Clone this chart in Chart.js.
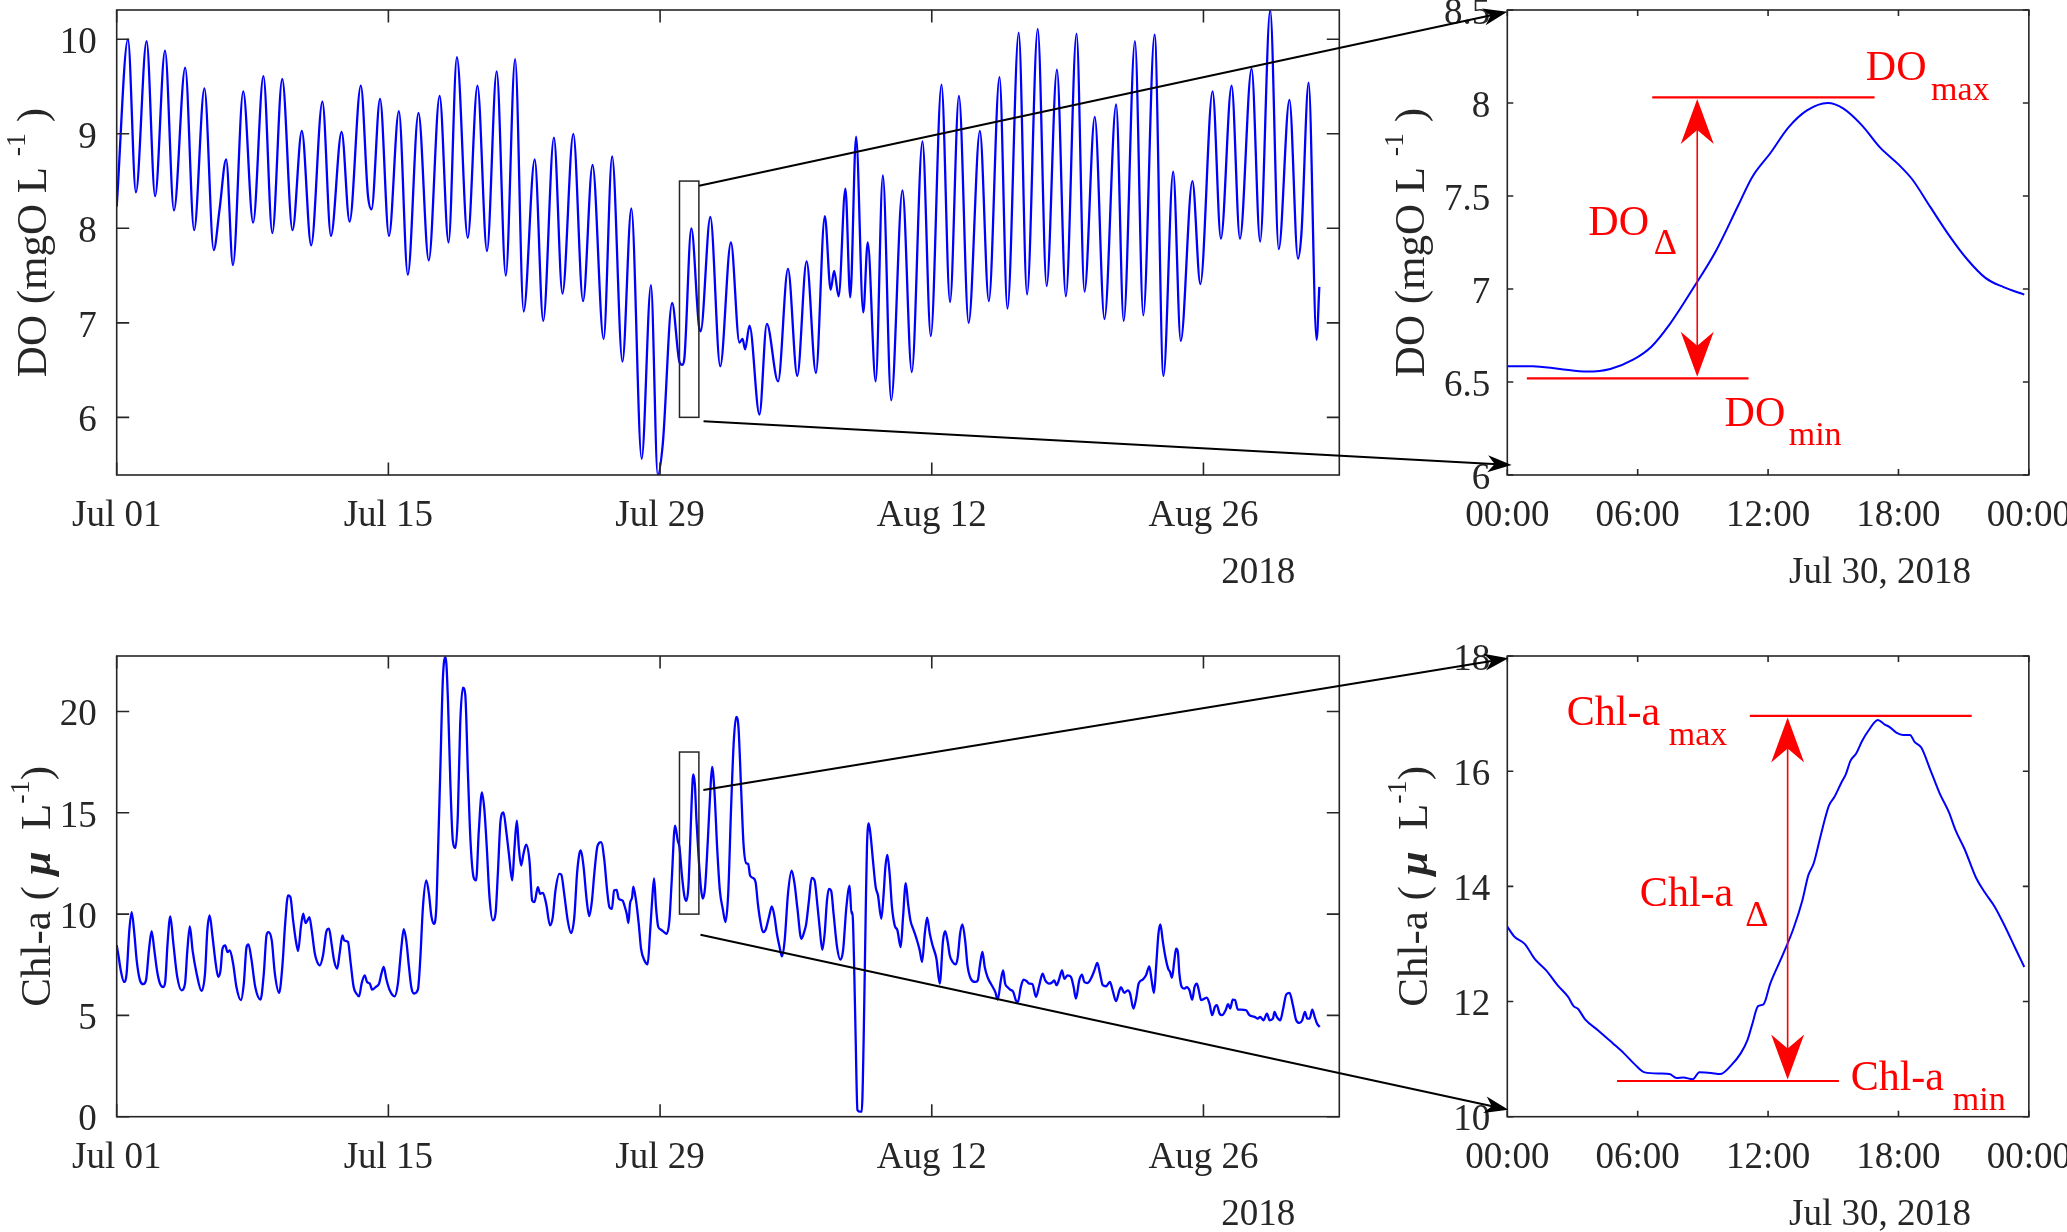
<!DOCTYPE html>
<html>
<head>
<meta charset="utf-8">
<script src="https://cdn.jsdelivr.net/npm/chart.js@4.4.1/dist/chart.umd.min.js"></script>
<style>
html,body{margin:0;padding:0;background:#ffffff;overflow:hidden;width:2067px;height:1232px;position:relative;}
canvas{position:absolute;}
</style>
</head>
<body>
<canvas id="cDO"></canvas>
<canvas id="cCHL"></canvas>
<canvas id="cDOZ"></canvas>
<canvas id="cCHLZ"></canvas>
<canvas id="overlay" width="2067" height="1232" style="left:0;top:0;pointer-events:none;"></canvas>
<script>
// ---------------- DATA ----------------
const MAIN_X_TICKS = [0, 14, 28, 42, 56];              // days since Jul 01 2018
const MAIN_X_LABELS = ['Jul 01', 'Jul 15', 'Jul 29', 'Aug 12', 'Aug 26'];
const ZOOM_X_TICKS = [0, 6, 12, 18, 24];               // hours of Jul 30 2018
const ZOOM_X_LABELS = ['00:00', '06:00', '12:00', '18:00', '00:00'];
const DO_Y_TICKS = [6, 7, 8, 9, 10];
const CHL_Y_TICKS = [0, 5, 10, 15, 20];
const DOZ_Y_TICKS = [6, 6.5, 7, 7.5, 8, 8.5];
const CHLZ_Y_TICKS = [10, 12, 14, 16, 18];

// DO (mgO/L): [day, value]
const DO_SERIES = [
[0,8.23],[0.58,10.0],[0.99,8.38],[1.54,9.98],[1.98,8.34],[2.49,9.88],[2.95,8.19],[3.53,9.70],[3.99,7.98],[4.52,9.48],
[5.00,7.77],[5.30,8.20],[5.64,8.73],[5.99,7.61],[6.52,9.45],[7.03,8.06],[7.56,9.61],[8.02,7.95],[8.53,9.58],[9.06,7.98],
[9.54,9.03],[10.02,7.82],[10.60,9.34],[11.04,7.92],[11.59,9.02],[12.00,8.07],[12.58,9.51],[12.95,8.34],[13.13,8.20],[13.57,9.37],
[14.03,7.92],[14.54,9.24],[15.00,7.51],[15.55,9.22],[16.08,7.66],[16.64,9.40],[17.10,7.85],[17.53,9.81],[18.09,7.90],[18.59,9.51],
[19.08,7.76],[19.58,9.66],[20.05,7.50],[20.53,9.79],[20.97,7.12],[21.54,8.73],[21.98,7.02],[22.53,8.96],[22.97,7.31],[23.53,9.00],
[24.03,7.23],[24.52,8.67],[25.09,6.83],[25.53,8.76],[26.06,6.59],[26.52,8.21],[27.05,5.56],[27.53,7.40],[27.88,5.39],[28.14,5.72],
[28.62,7.21],[29.00,6.585],[29.15,6.556],[29.25,6.62],[29.61,8.00],[30.00,6.97],[30.09,6.91],[30.59,8.12],[31.10,6.54],[31.65,7.85],
[32.09,6.79],[32.25,6.83],[32.38,6.72],[32.61,6.97],[33.12,6.03],[33.50,6.99],[34.08,6.38],[34.59,7.57],[35.07,6.44],[35.55,7.65],
[36.03,6.47],[36.49,8.13],[36.79,7.35],[36.97,7.55],[37.20,7.28],[37.55,8.42],[37.80,7.27],[38.10,8.97],[38.47,7.11],[38.70,7.85],
[39.11,6.38],[39.48,8.56],[39.91,6.18],[40.49,8.40],[40.97,6.48],[41.52,8.92],[41.95,6.86],[42.50,9.52],[42.94,7.22],[43.40,9.40],
[43.90,7.00],[44.48,9.03],[44.94,7.23],[45.49,9.60],[45.90,7.15],[46.48,10.07],[46.91,7.30],[47.46,10.11],[47.92,7.39],[48.45,9.68],
[48.91,7.28],[49.46,10.06],[49.87,7.33],[50.40,9.18],[50.90,7.04],[51.50,9.31],[51.89,7.02],[52.47,9.98],[52.90,7.08],[53.48,10.05],
[53.94,6.44],[54.44,8.60],[54.83,6.81],[55.43,8.50],[55.84,7.41],[56.47,9.45],[56.90,7.89],[57.45,9.51],[57.88,7.89],[58.48,9.69],
[58.92,7.86],[59.44,10.31],[59.88,7.78],[60.43,9.36],[60.87,7.68],[61.05,7.95],[61.42,9.54],[61.83,6.82],[61.97,7.38]
];

// Chl-a (ug/L): [day, value]
const CHL_SERIES = [
[0.00,8.46],[0.09,7.96],[0.21,7.22],[0.38,6.65],[0.51,7.06],[0.65,9.20],[0.77,10.10],[0.91,9.03],[1.03,7.72],[1.20,6.73],
[1.37,6.54],[1.51,6.73],[1.66,8.21],[1.80,9.16],[1.94,8.21],[2.09,7.14],[2.23,6.57],[2.40,6.40],[2.50,6.65],[2.62,8.54],
[2.76,9.89],[2.92,8.54],[3.12,6.90],[3.34,6.24],[3.52,6.57],[3.64,8.21],[3.77,9.39],[3.91,8.21],[4.12,7.06],[4.37,6.21],
[4.55,7.06],[4.67,9.20],[4.79,9.93],[4.94,8.87],[5.08,7.72],[5.23,6.90],[5.35,7.22],[5.45,8.29],[5.59,8.46],[5.71,8.13],
[5.83,8.21],[6.00,7.55],[6.17,6.40],[6.40,5.75],[6.55,6.57],[6.69,8.37],[6.79,8.51],[6.95,7.72],[7.14,6.40],[7.41,5.78],
[7.58,7.06],[7.72,8.95],[7.82,9.11],[7.99,8.70],[8.15,7.06],[8.37,6.11],[8.54,7.47],[8.68,9.52],[8.83,10.92],[8.95,10.84],
[9.09,9.69],[9.23,8.70],[9.35,8.18],[9.49,9.36],[9.61,10.02],[9.73,9.56],[9.83,9.69],[9.93,9.85],[10.05,9.20],[10.21,8.05],
[10.33,7.64],[10.46,7.47],[10.63,7.96],[10.81,9.16],[10.94,9.28],[11.06,8.62],[11.20,7.72],[11.36,7.31],[11.49,8.08],[11.63,8.95],
[11.73,8.70],[11.92,8.62],[12.04,7.72],[12.21,6.40],[12.35,6.08],[12.49,5.94],[12.62,6.57],[12.78,6.98],[12.90,6.65],[13.04,6.57],
[13.17,6.27],[13.34,6.40],[13.52,6.57],[13.64,7.06],[13.76,7.39],[13.89,6.81],[14.07,6.24],[14.32,5.94],[14.49,6.57],[14.67,8.37],
[14.79,9.26],[14.92,8.70],[15.06,7.39],[15.18,6.40],[15.32,6.08],[15.52,6.27],[15.64,7.72],[15.78,10.34],[15.95,11.66],[16.09,11.00],
[16.21,9.93],[16.35,9.52],[16.47,10.34],[16.55,12.81],[16.67,16.91],[16.81,21.67],[16.95,22.69],[17.07,20.53],[17.19,16.58],[17.32,13.63],
[17.46,13.27],[17.58,14.94],[17.70,19.38],[17.84,21.18],[17.96,20.85],[18.10,16.91],[18.23,13.63],[18.39,11.82],[18.52,11.66],[18.66,14.12],
[18.82,16.01],[18.95,15.11],[19.07,13.30],[19.21,10.84],[19.38,9.69],[19.52,10.02],[19.64,11.99],[19.78,14.61],[19.93,15.02],[20.07,14.12],
[20.21,12.97],[20.38,11.66],[20.50,13.30],[20.62,14.61],[20.72,13.30],[20.84,12.40],[20.96,12.97],[21.10,13.43],[21.27,12.64],[21.41,10.67],
[21.53,10.59],[21.70,11.33],[21.82,11.00],[21.96,11.05],[22.13,10.51],[22.33,9.44],[22.47,9.85],[22.61,11.17],[22.81,11.99],[22.91,11.95],
[23.06,11.00],[23.24,9.69],[23.41,9.06],[23.58,9.85],[23.72,11.99],[23.84,12.97],[23.92,13.14],[24.06,12.32],[24.22,10.67],[24.35,9.90],
[24.49,10.67],[24.61,11.99],[24.78,13.38],[24.96,13.55],[25.13,12.64],[25.27,11.17],[25.39,10.34],[25.52,10.26],[25.63,11.17],[25.76,11.20],
[25.87,10.76],[26.07,10.67],[26.19,10.34],[26.28,10.02],[26.37,9.56],[26.45,10.51],[26.56,10.84],[26.62,11.36],[26.76,10.67],[26.90,9.52],
[27.02,8.29],[27.19,7.72],[27.36,7.52],[27.48,9.03],[27.59,10.67],[27.69,11.76],[27.79,10.34],[27.90,9.39],[28.05,9.23],[28.22,9.10],
[28.34,9.03],[28.48,9.69],[28.60,11.66],[28.77,14.37],[28.91,13.63],[29.00,13.30],[29.125,11.92],[29.25,10.90],[29.354,10.65],[29.458,11.33],
[29.542,13.26],[29.625,15.50],[29.708,16.89],[29.792,16.41],[29.875,14.64],[30.00,12.60],[30.10,11.33],[30.20,10.76],[30.32,11.33],[30.46,13.63],
[30.58,15.93],[30.68,17.27],[30.80,16.09],[30.94,13.30],[31.08,11.17],[31.23,10.26],[31.37,9.61],[31.51,11.00],[31.66,15.27],[31.80,18.56],
[31.92,19.74],[32.04,19.21],[32.18,16.09],[32.30,13.46],[32.44,12.51],[32.54,12.48],[32.64,11.90],[32.78,11.79],[32.92,11.58],[33.04,10.51],
[33.16,9.69],[33.30,9.11],[33.44,9.23],[33.61,9.85],[33.76,10.38],[33.90,9.85],[34.02,9.03],[34.16,8.37],[34.28,7.91],[34.42,8.70],
[34.59,11.00],[34.78,12.15],[34.93,11.49],[35.07,10.34],[35.28,8.78],[35.45,9.20],[35.53,9.52],[35.67,10.67],[35.81,11.79],[35.96,11.66],
[36.10,10.51],[36.22,9.36],[36.36,8.24],[36.48,9.03],[36.60,10.67],[36.70,11.25],[36.82,11.13],[36.94,10.02],[37.12,8.37],[37.29,7.75],
[37.43,8.21],[37.60,10.34],[37.77,11.41],[37.86,10.02],[37.91,10.10],[37.99,7.88],[38.08,3.78],[38.17,0.33],[38.29,0.25],[38.39,0.25],
[38.49,3.78],[38.60,10.34],[38.66,13.30],[38.75,14.48],[38.84,13.96],[38.97,12.64],[39.11,11.33],[39.23,10.92],[39.40,9.77],[39.52,11.00],
[39.61,12.32],[39.71,12.92],[39.83,11.99],[39.95,10.34],[40.09,9.44],[40.23,9.20],[40.40,8.37],[40.52,9.85],[40.66,11.53],[40.78,10.51],
[40.90,9.69],[41.07,9.20],[41.24,8.70],[41.38,8.21],[41.50,7.64],[41.64,9.03],[41.76,9.82],[41.90,9.03],[42.04,8.46],[42.24,7.80],
[42.41,6.57],[42.58,8.70],[42.69,9.16],[42.81,8.70],[42.93,7.96],[43.07,7.64],[43.24,7.52],[43.34,7.88],[43.46,9.03],[43.58,9.49],
[43.72,8.70],[43.84,7.47],[44.01,6.81],[44.24,6.65],[44.37,6.73],[44.48,7.47],[44.61,8.13],[44.73,7.39],[44.87,6.90],[45.04,6.57],
[45.27,6.16],[45.40,5.78],[45.56,6.73],[45.68,7.22],[45.78,6.57],[45.90,6.40],[46.04,6.27],[46.20,6.16],[46.33,5.75],[46.44,5.67],
[46.59,6.40],[46.73,6.77],[46.88,6.70],[47.02,6.57],[47.19,6.54],[47.37,5.91],[47.54,6.49],[47.71,7.06],[47.85,6.73],[48.05,6.57],
[48.23,6.65],[48.31,6.73],[48.43,6.49],[48.57,6.81],[48.71,7.22],[48.83,6.81],[49.00,6.98],[49.17,6.90],[49.31,6.40],[49.43,5.83],
[49.60,6.73],[49.74,7.01],[49.86,6.65],[50.03,6.60],[50.20,6.81],[50.38,7.22],[50.53,7.59],[50.67,7.06],[50.81,6.49],[50.98,6.44],
[51.18,6.65],[51.32,6.24],[51.49,5.70],[51.67,6.24],[51.75,6.40],[51.92,6.11],[52.10,6.24],[52.22,6.08],[52.39,5.34],[52.53,5.83],
[52.66,6.57],[52.87,6.77],[53.04,6.98],[53.21,7.42],[53.33,6.73],[53.45,6.11],[53.56,7.39],[53.68,9.03],[53.78,9.49],[53.90,8.70],
[54.04,7.88],[54.18,7.31],[54.28,7.14],[54.38,6.86],[54.50,7.72],[54.59,8.29],[54.68,8.13],[54.76,7.06],[54.88,6.40],[55.02,6.32],
[55.14,6.40],[55.28,6.24],[55.42,5.78],[55.54,6.40],[55.66,6.57],[55.76,6.24],[55.88,5.75],[56.05,5.83],[56.17,5.88],[56.31,5.58],
[56.45,5.01],[56.59,5.42],[56.69,5.50],[56.83,5.09],[56.96,5.01],[57.14,5.25],[57.27,5.55],[57.38,5.34],[57.51,5.78],[57.63,5.75],
[57.77,5.29],[57.94,5.29],[58.20,5.25],[58.37,5.01],[58.63,4.93],[58.80,4.84],[58.92,4.93],[59.10,4.76],[59.27,5.09],[59.41,4.76],
[59.58,4.84],[59.66,5.17],[59.78,4.93],[59.96,4.76],[60.09,5.25],[60.27,6.04],[60.44,6.11],[60.61,5.50],[60.78,4.76],[60.95,4.63],
[61.09,4.76],[61.23,5.17],[61.35,4.84],[61.47,4.84],[61.61,5.29],[61.73,4.93],[61.85,4.60],[61.99,4.43]
];

// Jul 30 detail: [hour, value]
const DO_ZOOM_SERIES = [
[0,6.585],[1.16,6.585],[2.42,6.57],[3.68,6.556],[4.74,6.57],[5.79,6.62],[6.63,6.69],[7.47,6.81],[8.53,7.00],[9.58,7.20],
[10.63,7.45],[11.26,7.60],[12.10,7.73],[12.95,7.87],[13.79,7.96],[14.74,8.00],[15.47,7.97],[16.32,7.88],[17.16,7.76],[18.00,7.67],
[18.63,7.59],[19.47,7.44],[20.32,7.29],[21.16,7.16],[22.00,7.06],[22.84,7.01],[23.79,6.97]
];
const CHL_ZOOM_SERIES = [
[0,13.30],[0.32,13.13],[0.80,13.00],[1.26,12.74],[1.79,12.54],[2.32,12.28],[2.80,12.08],[3.05,11.92],[3.26,11.87],[3.58,11.69],
[4.21,11.49],[4.84,11.28],[5.37,11.10],[5.89,10.90],[6.32,10.77],[7.05,10.75],[7.47,10.74],[7.79,10.67],[8.10,10.68],[8.53,10.65],
[8.84,10.77],[9.37,10.76],[9.79,10.74],[10.32,10.90],[10.74,11.10],[11.05,11.33],[11.26,11.59],[11.54,11.92],[11.79,11.95],[12.10,12.31],
[12.63,12.77],[13.16,13.26],[13.58,13.76],[13.85,14.19],[14.10,14.40],[14.42,14.88],[14.80,15.40],[15.05,15.55],[15.37,15.80],[15.58,15.95],
[15.79,16.18],[16.06,16.31],[16.32,16.52],[16.63,16.71],[17.05,16.89],[17.37,16.81],[17.58,16.77],[17.90,16.67],[18.21,16.63],[18.53,16.63],
[18.74,16.51],[19.05,16.41],[19.47,16.02],[19.89,15.62],[20.32,15.29],[20.63,14.97],[21.05,14.64],[21.58,14.14],[22.00,13.88],[22.42,13.65],
[22.84,13.35],[23.37,12.93],[23.79,12.60]
];

// annotation levels
const DO_ANN = { max: 8.03, maxFrom: 6.67, maxTo: 16.9, min: 6.52, minFrom: 0.9, minTo: 11.1, arrowAt: 8.74 };
const CHL_ANN = { max: 16.96, maxFrom: 11.16, maxTo: 21.37, min: 10.62, minFrom: 5.05, minTo: 15.26, arrowAt: 12.9 };

// ---------------- HELPERS ----------------
const FONT = "'Liberation Serif', 'Times New Roman', serif";
const AXC = '#262626';
const TICK_FONT = { family: FONT, size: 37 };

function fontStr(p) { return (p.style ? p.style + ' ' : '') + p.size + 'px ' + FONT; }

function richRot(ctx, parts, bx, cy, color) {
  ctx.save();
  ctx.translate(bx, cy);
  ctx.rotate(-Math.PI / 2);
  let total = 0;
  parts.forEach(p => { ctx.font = fontStr(p); p.w = ctx.measureText(p.t).width; total += p.w; });
  let x = -total / 2;
  ctx.textBaseline = 'alphabetic';
  ctx.textAlign = 'left';
  ctx.fillStyle = color;
  parts.forEach(p => { ctx.font = fontStr(p); ctx.fillText(p.t, x, -(p.rise || 0)); x += p.w; });
  ctx.restore();
}

function headAt(ctx, tx, ty, fx, fy, len, hw, notch, color) {
  const a = Math.atan2(ty - fy, tx - fx);
  ctx.save();
  ctx.translate(tx, ty);
  ctx.rotate(a);
  ctx.beginPath();
  ctx.moveTo(0, 0);
  ctx.lineTo(-len, -hw);
  ctx.lineTo(-len + notch, 0);
  ctx.lineTo(-len, hw);
  ctx.closePath();
  ctx.fillStyle = color;
  ctx.fill();
  ctx.restore();
}

function makeChart(id, box, area, cfg) {
  const cv = document.getElementById(id);
  cv.width = box.w; cv.height = box.h;
  cv.style.left = box.x + 'px'; cv.style.top = box.y + 'px';
  cv.style.width = box.w + 'px'; cv.style.height = box.h + 'px';
  const yW = area.l - box.x;
  const padTop = area.t - box.y;
  const padRight = box.x + box.w - area.r;
  const xH = box.y + box.h - area.b;

  const framePlugin = {
    id: 'frame_' + id,
    afterDatasetsDraw(chart) {
      const ctx = chart.ctx, a = chart.chartArea, xs = chart.scales.x, ys = chart.scales.y;
      ctx.save();
      if (cfg.annot) cfg.annot(ctx, xs, ys, a);
      ctx.strokeStyle = AXC;
      ctx.lineWidth = 1.6;
      ctx.strokeRect(a.left, a.top, a.right - a.left, a.bottom - a.top);
      ctx.beginPath();
      const tl = cfg.tickLen;
      xs.ticks.forEach(t => {
        const px = xs.getPixelForValue(t.value);
        ctx.moveTo(px, a.bottom); ctx.lineTo(px, a.bottom - tl);
        ctx.moveTo(px, a.top); ctx.lineTo(px, a.top + tl);
      });
      ys.ticks.forEach(t => {
        const py = ys.getPixelForValue(t.value);
        ctx.moveTo(a.left, py); ctx.lineTo(a.left + tl, py);
        ctx.moveTo(a.right, py); ctx.lineTo(a.right - tl, py);
      });
      ctx.stroke();
      richRot(ctx, cfg.title, a.left - cfg.titleOffset, (a.top + a.bottom) / 2, AXC);
      ctx.font = '37px ' + FONT;
      ctx.fillStyle = AXC;
      ctx.textAlign = 'center';
      ctx.textBaseline = 'alphabetic';
      ctx.fillText(cfg.extra.text, a.left + cfg.extra.dx, a.bottom + 108);
      ctx.restore();
    }
  };

  return new Chart(cv, {
    type: 'line',
    data: {
      datasets: [{
        data: cfg.series.map(p => ({ x: p[0], y: p[1] })),
        borderColor: '#0000ff',
        borderWidth: cfg.lineWidth,
        pointRadius: 0,
        fill: false,
        cubicInterpolationMode: 'monotone'
      }]
    },
    options: {
      responsive: false,
      animation: false,
      devicePixelRatio: 1,
      layout: { padding: { top: padTop, right: padRight, left: 0, bottom: 0 } },
      plugins: { legend: { display: false }, tooltip: { enabled: false }, title: { display: false } },
      scales: {
        x: {
          type: 'linear',
          min: cfg.xmin, max: cfg.xmax,
          grid: { display: false, drawTicks: false },
          border: { display: false },
          afterBuildTicks: s => { s.ticks = cfg.xticks.map(v => ({ value: v })); },
          afterFit: s => { s.height = xH; },
          ticks: {
            autoSkip: false, maxRotation: 0, minRotation: 0, padding: 19,
            font: TICK_FONT, color: AXC,
            callback: v => cfg.xlabels[cfg.xticks.indexOf(v)]
          }
        },
        y: {
          type: 'linear',
          min: cfg.ymin, max: cfg.ymax,
          grid: { display: false, drawTicks: false },
          border: { display: false },
          afterBuildTicks: s => { s.ticks = cfg.yticks.map(v => ({ value: v })); },
          afterFit: s => { s.width = yW; },
          ticks: {
            autoSkip: false, padding: cfg.yPad, labelOffset: 4,
            font: TICK_FONT, color: AXC,
            callback: v => String(v)
          }
        }
      }
    },
    plugins: [framePlugin]
  });
}

function boxAnnot(y1, y2) {
  return (ctx, xs, ys) => {
    ctx.save();
    ctx.strokeStyle = AXC;
    ctx.lineWidth = 1.5;
    const x1p = xs.getPixelForValue(29), x2p = xs.getPixelForValue(30);
    const y1p = ys.getPixelForValue(y2), y2p = ys.getPixelForValue(y1);
    ctx.strokeRect(x1p, y1p, x2p - x1p, y2p - y1p);
    ctx.restore();
  };
}

function redAnnot(ann, texts) {
  return (ctx, xs, ys) => {
    ctx.save();
    const red = '#ff0000';
    ctx.strokeStyle = red;
    ctx.lineWidth = 2.2;
    ctx.beginPath();
    ctx.moveTo(xs.getPixelForValue(ann.maxFrom), ys.getPixelForValue(ann.max));
    ctx.lineTo(xs.getPixelForValue(ann.maxTo), ys.getPixelForValue(ann.max));
    ctx.moveTo(xs.getPixelForValue(ann.minFrom), ys.getPixelForValue(ann.min));
    ctx.lineTo(xs.getPixelForValue(ann.minTo), ys.getPixelForValue(ann.min));
    ctx.stroke();
    const ax = xs.getPixelForValue(ann.arrowAt);
    const yt = ys.getPixelForValue(ann.max) + 1.5, yb = ys.getPixelForValue(ann.min) - 1.5;
    ctx.lineWidth = 1.6;
    ctx.beginPath();
    ctx.moveTo(ax, yt + 20); ctx.lineTo(ax, yb - 20);
    ctx.stroke();
    headAt(ctx, ax, yt, ax, yb, 45, 16.5, 14, red);
    headAt(ctx, ax, yb, ax, yt, 45, 16.5, 14, red);
    ctx.fillStyle = red;
    ctx.textAlign = 'left';
    ctx.textBaseline = 'alphabetic';
    texts.forEach(t => {
      ctx.font = t.size + 'px ' + FONT;
      ctx.fillText(t.t, xs.getPixelForValue(t.x), ys.getPixelForValue(t.y));
    });
    ctx.restore();
  };
}

// ---------------- LAYOUT ----------------
const B_DO = { x: 0, y: -40, w: 1400, h: 640 };
const A_DO = { l: 116.7, t: 10, r: 1339.3, b: 475 };
const B_CHL = { x: 0, y: 606, w: 1400, h: 630 };
const A_CHL = { l: 116.7, t: 656, r: 1339.3, b: 1116.7 };
const B_DOZ = { x: 1380, y: -40, w: 710, h: 640 };
const A_DOZ = { l: 1507.3, t: 10, r: 2030.4, b: 475 };
const B_CHLZ = { x: 1380, y: 606, w: 710, h: 630 };
const A_CHLZ = { l: 1507.3, t: 656, r: 2030.4, b: 1116.7 };

const DO_TITLE = [{ t: 'DO (mgO L ', size: 43 }, { t: '-1', size: 28, rise: 21 }, { t: ' )', size: 43 }];
const CHL_TITLE = [{ t: 'Chl-a ( ', size: 43 }, { t: '\u03BC', size: 43, style: 'italic bold' }, { t: '  L', size: 43 }, { t: '-1', size: 28, rise: 21 }, { t: ')', size: 43 }];

const cDO = makeChart('cDO', B_DO, A_DO, {
  series: DO_SERIES, lineWidth: 2.3,
  xmin: 0, xmax: 63, xticks: MAIN_X_TICKS, xlabels: MAIN_X_LABELS,
  ymin: 5.39, ymax: 10.31, yticks: DO_Y_TICKS, yPad: 20, tickLen: 12.5,
  title: DO_TITLE, titleOffset: 71,
  extra: { text: '2018', dx: A_DO.r - A_DO.l - 81 },
  annot: boxAnnot(6, 8.5)
});
const cCHL = makeChart('cCHL', B_CHL, A_CHL, {
  series: CHL_SERIES, lineWidth: 2.3,
  xmin: 0, xmax: 63, xticks: MAIN_X_TICKS, xlabels: MAIN_X_LABELS,
  ymin: 0, ymax: 22.74, yticks: CHL_Y_TICKS, yPad: 20, tickLen: 12.5,
  title: CHL_TITLE, titleOffset: 67,
  extra: { text: '2018', dx: A_CHL.r - A_CHL.l - 81 },
  annot: boxAnnot(10, 18)
});
const cDOZ = makeChart('cDOZ', B_DOZ, A_DOZ, {
  series: DO_ZOOM_SERIES, lineWidth: 2,
  xmin: 0, xmax: 24, xticks: ZOOM_X_TICKS, xlabels: ZOOM_X_LABELS,
  ymin: 6, ymax: 8.5, yticks: DOZ_Y_TICKS, yPad: 17, tickLen: 6,
  title: DO_TITLE, titleOffset: 83,
  extra: { text: 'Jul 30, 2018', dx: 372.7 },
  annot: redAnnot(DO_ANN, [
    { t: 'DO', x: 16.5, y: 8.121, size: 42 }, { t: 'max', x: 19.5, y: 8.018, size: 34 },
    { t: 'DO', x: 3.73, y: 7.291, size: 42 }, { t: '\u0394', x: 6.74, y: 7.188, size: 36 },
    { t: 'DO', x: 10.0, y: 6.262, size: 42 }, { t: 'min', x: 12.95, y: 6.163, size: 34 }
  ])
});
const cCHLZ = makeChart('cCHLZ', B_CHLZ, A_CHLZ, {
  series: CHL_ZOOM_SERIES, lineWidth: 2,
  xmin: 0, xmax: 24, xticks: ZOOM_X_TICKS, xlabels: ZOOM_X_LABELS,
  ymin: 10, ymax: 18, yticks: CHLZ_Y_TICKS, yPad: 17, tickLen: 6,
  title: CHL_TITLE, titleOffset: 80,
  extra: { text: 'Jul 30, 2018', dx: 372.7 },
  annot: redAnnot(CHL_ANN, [
    { t: 'Chl-a', x: 2.74, y: 16.80, size: 42 }, { t: 'max', x: 7.43, y: 16.455, size: 34 },
    { t: 'Chl-a', x: 6.1, y: 13.66, size: 42 }, { t: '\u0394', x: 10.95, y: 13.32, size: 36 },
    { t: 'Chl-a', x: 15.8, y: 10.46, size: 42 }, { t: 'min', x: 20.5, y: 10.11, size: 34 }
  ])
});

// ---------------- CONNECTORS ----------------
function pagePt(chart, box, xv, yv) {
  return [box.x + chart.scales.x.getPixelForValue(xv), box.y + chart.scales.y.getPixelForValue(yv)];
}
const CONNECTORS = [
  [cDO, B_DO, 30.01, 8.45, cDOZ, B_DOZ, 0.0, 8.49],
  [cDO, B_DO, 30.24, 5.96, cDOZ, B_DOZ, 0.2, 6.054],
  [cCHL, B_CHL, 30.23, 16.13, cCHLZ, B_CHLZ, 0.05, 17.96],
  [cCHL, B_CHL, 30.08, 8.98, cCHLZ, B_CHLZ, 0.05, 10.12]
];
function drawConnectors() {
  const ov = document.getElementById('overlay');
  const ctx = ov.getContext('2d');
  ctx.clearRect(0, 0, ov.width, ov.height);
  ctx.strokeStyle = '#000000';
  ctx.lineWidth = 2;
  CONNECTORS.forEach(c => {
    const p1 = pagePt(c[0], c[1], c[2], c[3]);
    const p2 = pagePt(c[4], c[5], c[6], c[7]);
    const ang = Math.atan2(p2[1] - p1[1], p2[0] - p1[0]);
    ctx.beginPath();
    ctx.moveTo(p1[0], p1[1]);
    ctx.lineTo(p2[0] - Math.cos(ang) * 14, p2[1] - Math.sin(ang) * 14);
    ctx.stroke();
    headAt(ctx, p2[0], p2[1], p1[0], p1[1], 24, 8.5, 7, '#000000');
  });
}
drawConnectors();
</script>
</body>
</html>
